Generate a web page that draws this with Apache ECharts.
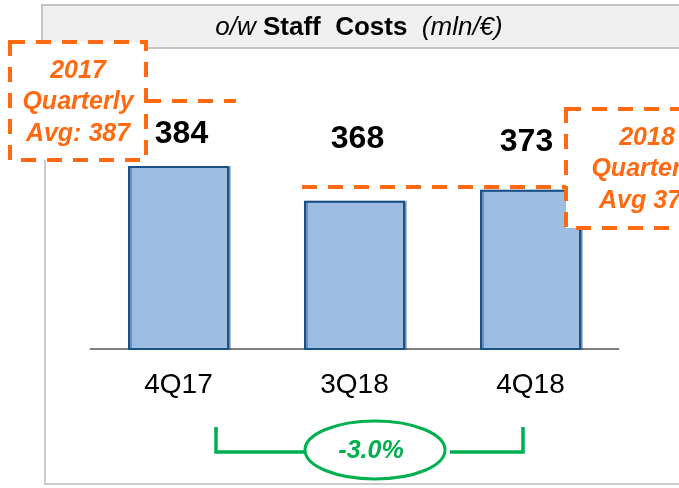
<!DOCTYPE html>
<html>
<head>
<meta charset="utf-8">
<script src="https://cdn.jsdelivr.net/npm/echarts@6/dist/echarts.min.js"></script>
<style>
  html, body { margin: 0; padding: 0; background: #fff; }
  #chart { width: 679px; height: 488px; }
</style>
</head>
<body>
<div id="chart"></div>
<script>
const categories = ['4Q17', '3Q18', '4Q18']
const staffCosts = [384, 368, 373]
const avg2017Lines = ['2017', 'Quarterly', 'Avg: 387']
const avg2018Lines = ['2018', 'Quarterly', 'Avg 373']
const changeText = '-3.0%'

const FONT = '"Liberation Sans", Arial, sans-serif'
const ORANGE = '#ff6a10'
const GREEN = '#00b04f'
const dash = [15, 11]

// the value labels sit at uneven heights in the original slide
const labelLift = [16, 46, 32]
const labelShift = [3, 3, -4]

const chart = echarts.init(document.getElementById('chart'))

const orangeText = (lines, cx, y0) => lines.map((t, i) => ({
  type: 'text',
  z: 20,
  x: cx,
  y: y0 + i * 31.5,
  style: {
    text: t,
    fill: ORANGE,
    font: 'italic bold 25px ' + FONT,
    align: 'center',
    verticalAlign: 'middle'
  }
}))

chart.setOption({
  animation: false,
  grid: { left: 90.5, width: 528, top: 131, height: 218 },
  xAxis: {
    type: 'category',
    data: categories,
    axisLine: { lineStyle: { color: '#808080', width: 2 } },
    axisTick: { show: false },
    axisLabel: {
      color: '#000',
      fontSize: 28,
      lineHeight: 28,
      margin: 22,
      fontFamily: FONT
    }
  },
  yAxis: {
    type: 'value',
    min: 300,
    max: 400,
    show: false
  },
  series: [{
    type: 'bar',
    barWidth: 101,
    z: 2,
    data: staffCosts.map((v, i) => ({
      value: v,
      label: { distance: labelLift[i], offset: [labelShift[i], 0] }
    })),
    itemStyle: {
      color: '#9dbde3',
      borderColor: '#1a4f88',
      borderWidth: 2,
      shadowColor: 'rgba(20,60,110,0.35)',
      shadowOffsetX: 2
    },
    label: {
      show: true,
      position: 'top',
      color: '#000',
      fontSize: 32,
      fontWeight: 'bold',
      lineHeight: 32,
      fontFamily: FONT
    }
  }],
  graphic: [
    // panel frame
    {
      type: 'rect', z: 0, silent: true,
      shape: { x: 45, y: 6, width: 700, height: 478 },
      style: { fill: 'none', stroke: '#cbcbcb', lineWidth: 2 }
    },
    // title bar
    {
      type: 'rect', z: 1,
      shape: { x: 42, y: 5, width: 700, height: 43 },
      style: { fill: '#f0f0f0', stroke: '#c4c4c4', lineWidth: 2 }
    },
    {
      type: 'text', z: 2, x: 359, y: 28,
      style: {
        text: '{i|o/w }{b|Staff  Costs}{i|  (mln/€)}',
        align: 'center',
        verticalAlign: 'middle',
        rich: {
          i: { fontStyle: 'italic', fontSize: 26, fontFamily: FONT, fill: '#000' },
          b: { fontWeight: 'bold', fontSize: 26, fontFamily: FONT, fill: '#000' }
        }
      }
    },
    // 2017 average box
    {
      type: 'line', z: 10,
      shape: { x1: 146, y1: 101, x2: 236, y2: 101 },
      style: { stroke: ORANGE, lineWidth: 4, lineDash: dash }
    },
    {
      type: 'rect', z: 10,
      shape: { x: 10, y: 42, width: 136, height: 118 },
      style: { fill: '#fff', stroke: ORANGE, lineWidth: 4, lineDash: dash }
    },
    ...orangeText(avg2017Lines, 78, 71),
    // 2018 average box
    {
      type: 'line', z: 10,
      shape: { x1: 302, y1: 187, x2: 566, y2: 187 },
      style: { stroke: ORANGE, lineWidth: 4, lineDash: dash }
    },
    {
      type: 'rect', z: 10,
      shape: { x: 566, y: 109, width: 200, height: 119 },
      style: { fill: '#fff', stroke: ORANGE, lineWidth: 4, lineDash: dash }
    },
    ...orangeText(avg2018Lines, 647, 138),
    // change bracket
    {
      type: 'polyline', z: 10,
      shape: { points: [[216, 427], [216, 452], [308, 452]] },
      style: { fill: 'none', stroke: GREEN, lineWidth: 3.5 }
    },
    {
      type: 'polyline', z: 10,
      shape: { points: [[450, 452], [523, 452], [523, 427]] },
      style: { fill: 'none', stroke: GREEN, lineWidth: 3.5 }
    },
    {
      type: 'ellipse', z: 11,
      shape: { cx: 375, cy: 450, rx: 70, ry: 29 },
      style: { fill: '#fff', stroke: GREEN, lineWidth: 3 }
    },
    {
      type: 'text', z: 12, x: 371, y: 451,
      style: {
        text: changeText,
        fill: GREEN,
        font: 'italic bold 25px ' + FONT,
        align: 'center',
        verticalAlign: 'middle'
      }
    }
  ]
})
</script>
</body>
</html>
